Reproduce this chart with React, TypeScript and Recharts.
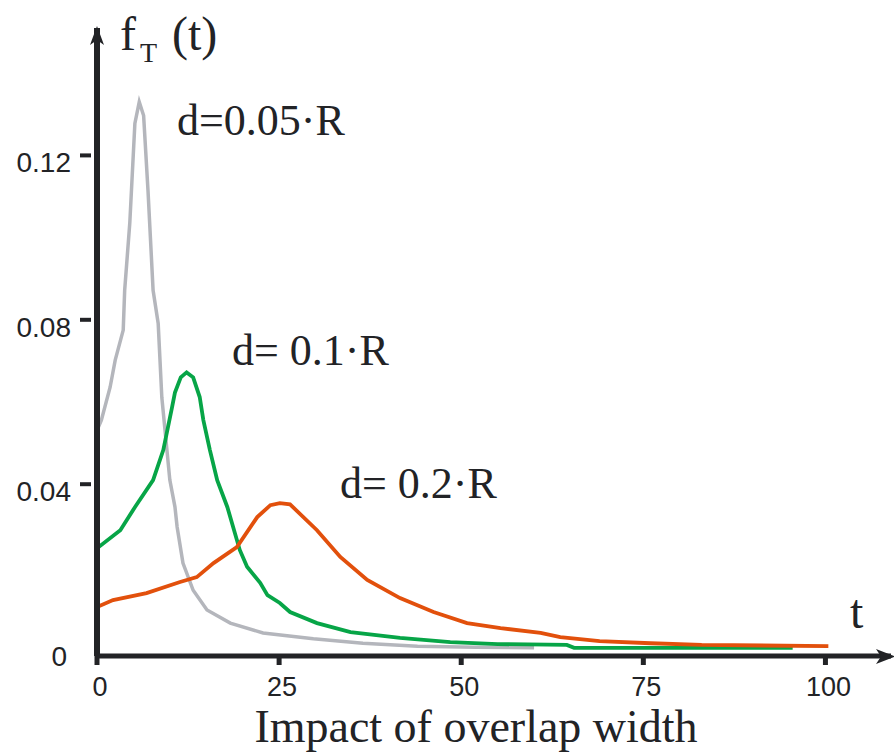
import React from "react";
import { LineChart, Line, XAxis, YAxis } from "recharts";

const xTicks = [0, 25, 50, 75, 100];
const yTicks = [0, 0.04, 0.08, 0.12];

const grayT = [0, 0.6, 1.8, 2.5, 3.6, 3.8, 4.5, 5.2, 5.8, 6.4, 7.0, 7.7, 8.4, 8.9, 10.0, 10.7, 11.0, 11.8, 13.2, 15.1, 18.3, 22.8, 29.7, 36.5, 44, 52, 60];
const grayF = [0.0531, 0.0556, 0.0636, 0.0702, 0.0775, 0.0872, 0.1035, 0.1278, 0.133, 0.1297, 0.1115, 0.0872, 0.0791, 0.0611, 0.041, 0.0345, 0.0296, 0.0208, 0.0142, 0.0094, 0.0062, 0.0038, 0.0024, 0.0013, 0.0006, 0.0003, 0.0002];

const greenT = [0, 3.2, 5.2, 7.7, 9.1, 10.3, 10.7, 11.5, 12.3, 13.2, 14.1, 14.6, 15.5, 16.5, 17.9, 19.6, 20.6, 22.4, 23.4, 25.1, 26.5, 30.2, 34.8, 41.6, 48.5, 55, 64.5, 65.5, 95.5];
const greenF = [0.0244, 0.0288, 0.0344, 0.041, 0.0483, 0.0587, 0.0623, 0.066, 0.0672, 0.066, 0.0612, 0.0556, 0.0483, 0.041, 0.0344, 0.024, 0.0199, 0.016, 0.013, 0.0111, 0.0089, 0.0062, 0.004, 0.0026, 0.0016, 0.0011, 0.0009, 0.0002, 0.0002];

const orangeT = [0, 2.2, 6.8, 11.4, 13.7, 16, 19.2, 22, 23.8, 25.1, 26.5, 30.2, 33.4, 37.1, 41.6, 46.2, 50.8, 55.4, 60.9, 63.6, 69, 76, 83, 100.4];
const orangeF = [0.0101, 0.0118, 0.0135, 0.0162, 0.0174, 0.0208, 0.0247, 0.032, 0.0349, 0.0354, 0.0351, 0.0288, 0.0223, 0.0167, 0.0123, 0.0089, 0.0062, 0.005, 0.0038, 0.0028, 0.0018, 0.0013, 0.0009, 0.0006];

const toData = (ts: number[], fs: number[]) => ts.map((t, i) => ({ t, f: fs[i] }));
const grayData = toData(grayT, grayF);
const greenData = toData(greenT, greenF);
const orangeData = toData(orangeT, orangeF);

const AX = "#222326";
const SANS = "'Liberation Sans', Arial, sans-serif";
const SERIF = "'Liberation Serif', 'Times New Roman', serif";

const XTick = (props: any) => {
  const { x, y, payload } = props;
  return (
    <text x={x + 3} y={y + 29} textAnchor="middle" fontFamily={SANS} fontSize={27} fill={AX}>
      {payload.value}
    </text>
  );
};

const YTick = (props: any) => {
  const { x, y, payload } = props;
  const v = payload.value;
  const label = v === 0 ? "0" : v.toFixed(2);
  return (
    <g>
      {v !== 0 && <line x1={x - 9} x2={x + 2} y1={y} y2={y} stroke={AX} strokeWidth={4} />}
      <text x={v === 0 ? x - 22 : x - 18} y={y + 17} textAnchor="end" fontFamily={SANS} fontSize={28} fill={AX}>
        {label}
      </text>
    </g>
  );
};

export default function App() {
  return (
    <div style={{ position: "fixed", left: 0, top: 0, width: 894, height: 753, background: "#fff", overflow: "hidden" }}>
      <LineChart width={894} height={753} margin={{ top: 28, right: 3, bottom: 67, left: 0 }}>
        <XAxis
          type="number"
          dataKey="t"
          domain={[0, 109]}
          ticks={xTicks}
          allowDataOverflow
          height={30}
          axisLine={{ stroke: AX, strokeWidth: 5 }}
          tickLine={{ stroke: AX, strokeWidth: 5 }}
          tickSize={9}
          tick={<XTick />}
          interval={0}
        />
        <YAxis
          type="number"
          dataKey="f"
          domain={[-0.0018, 0.151]}
          ticks={yTicks}
          allowDataOverflow
          width={97}
          axisLine={{ stroke: AX, strokeWidth: 6 }}
          tickLine={false}
          tick={<YTick />}
          interval={0}
        />
        <Line data={grayData} dataKey="f" type="linear" stroke="#b4b6bc" strokeWidth={3.5} dot={false} isAnimationActive={false} />
        <Line data={greenData} dataKey="f" type="linear" stroke="#07a547" strokeWidth={3.8} dot={false} isAnimationActive={false} />
        <Line data={orangeData} dataKey="f" type="linear" stroke="#e2500c" strokeWidth={3.8} dot={false} isAnimationActive={false} />
      </LineChart>
      <svg width={894} height={753} style={{ position: "absolute", left: 0, top: 0, pointerEvents: "none" }}>
        <polygon points="97,26 104,45 97,40 90,45" fill={AX} />
        <polygon points="895,656.5 876,649 881,656.5 876,664" fill={AX} />
        <g fontFamily={SERIF} fill={AX}>
          <text x={120} y={50} fontSize={48}>f</text>
          <text x={140} y={62} fontSize={28}>T</text>
          <text x={172} y={50} fontSize={48}>(t)</text>
          <text x={177} y={135} fontSize={44}>d=0.05·R</text>
          <text x={232} y={365} fontSize={44}>d= 0.1·R</text>
          <text x={340} y={498} fontSize={44}>d= 0.2·R</text>
          <text x={850} y={628} fontSize={48}>t</text>
          <text x={476} y={742} fontSize={46} textAnchor="middle">Impact of overlap width</text>
        </g>
      </svg>
    </div>
  );
}
